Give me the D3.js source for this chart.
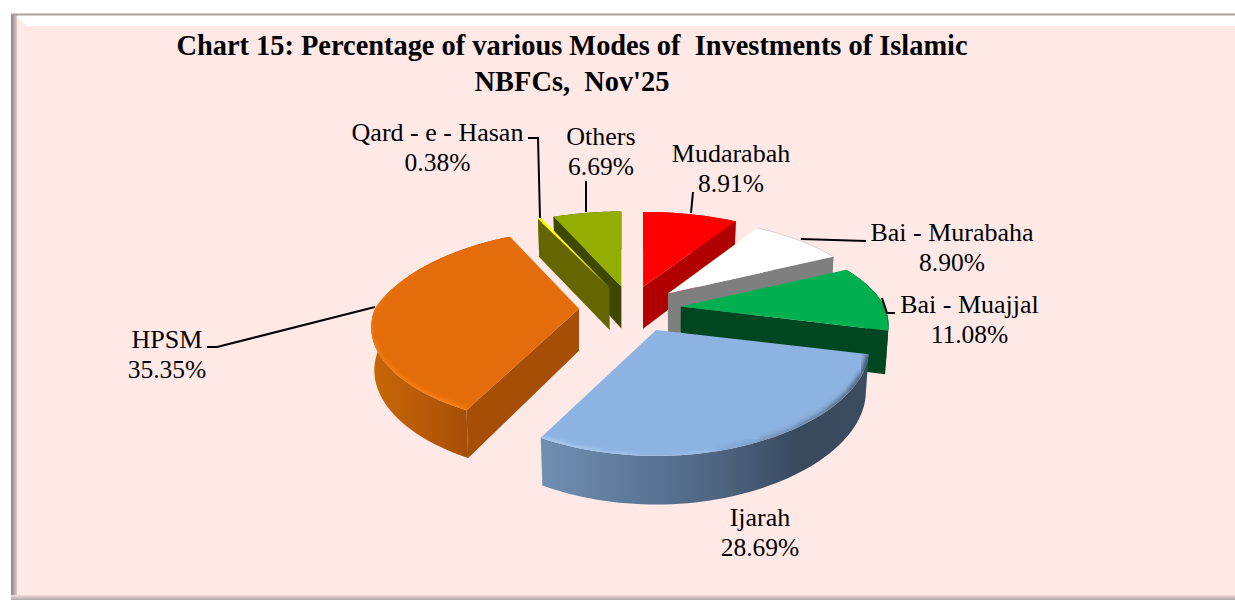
<!DOCTYPE html>
<html><head><meta charset="utf-8">
<script src="https://cdn.jsdelivr.net/npm/d3@7/dist/d3.min.js"></script>
<style>html,body{margin:0;padding:0;background:#fff}svg{display:block}text{font-family:"Liberation Serif",serif;fill:#000;white-space:pre}</style>
</head><body><svg id="c" width="1235" height="600"></svg>
<script>
const categories=["Mudarabah","Bai - Murabaha","Bai - Muajjal","Ijarah","HPSM","Qard - e - Hasan","Others"];
const values=[8.91,8.90,11.08,28.69,35.35,0.38,6.69];
const valueLabels=["8.91%","8.90%","11.08%","28.69%","35.35%","0.38%","6.69%"];
const topColors=["#ff0000","#ffffff","#00b050","#8db3e2","#e46c0a","#ffff00","#95ad00"];
const wallColors=["#b00000","#7f7f7f","#004721","#3a4b60","#a64e06","#666600","#3f4800"];
const titleLines=["Chart 15: Percentage of various Modes of  Investments of Islamic","NBFCs,  Nov'25"];
const labelAnchors=[[731,154],[952,233],[969.5,305],[760,518],[167,340],[437.5,133],[601,137]];
const leaders=[[[693,192],[691,213]],[[866,241],[801,239]],[[895,313],[887,313],[882,298]],[],[[207,347],[217,347],[375,307]],[[528,138],[538,138],[540,218]],[[586,181],[586,212]]];
const drawOrder=[6,5,0,1,2,4,3];
const sliceShift=[-1,0,0,5,0,1,2];
const sliceScale=[1,1,1,1.025,1,1,1];
const slicePerspY=[0.2535,0.2535,0.2535,0.2535,0.2,0.2535,0.2535];
const slicePerspBack=[0.2,0.25,0.25,0.19,0.3,0.25,0.25];

const W=1235,H=600;
const svg=d3.select("#c");
const defs=svg.append("defs");
defs.append("filter").attr("id","blur").attr("x","-20%").attr("y","-20%").attr("width","140%").attr("height","140%")
  .append("feGaussianBlur").attr("stdDeviation",2);

// frame
const g0=svg.append("g");
g0.append("rect").attr("x",11).attr("y",14).attr("width",W-11).attr("height",H-14).attr("fill","#ffe9e7");
g0.append("path").attr("d",d3.line()([[15,15],[W,15],[W,26],[27,26]])).attr("fill","#ffffff");
const lg=defs.append("linearGradient").attr("id","lb");
lg.append("stop").attr("offset",0).attr("stop-color","#8f8484");
lg.append("stop").attr("offset",1).attr("stop-color","#d9c9c9");
g0.append("rect").attr("x",11).attr("y",14).attr("width",6).attr("height",H-14).attr("fill","url(#lb)");
g0.append("rect").attr("x",11).attr("y",13.5).attr("width",W-11).attr("height",2).attr("fill","#a89f9f");
const bg=defs.append("linearGradient").attr("id","bb").attr("x2",0).attr("y2",1);
bg.append("stop").attr("offset",0).attr("stop-color","#f5dedc");
bg.append("stop").attr("offset",1).attr("stop-color","#b0a5a5");
g0.append("rect").attr("x",11).attr("y",595).attr("width",W-11).attr("height",5).attr("fill","url(#bb)");

// projection of the pie plane
const cx=630,cy=309,rx=204,ry=94,perspFront=0.19,explode=0.25,yEx=0.245;
const TAU=2*Math.PI;
const arcs=d3.pie().sort(null).value(d=>d).startAngle(0).endAngle(TAU)(values);
const apex=(a,i)=>{const m=(a.startAngle+a.endAngle)/2;return [cx+rx*explode*Math.sin(m)+sliceShift[i],cy-ry*yEx*Math.cos(m)];};
const line=d3.line();
const angles=(s,e)=>d3.range(0,61).map(i=>s+(e-s)*i/60);

const wallGrad={3:[["0","#6f8fb3"],["0.55","#4d6480"],["0.78","#394a5f"],["1","#3b4c61"]],4:[["0","#a64e06"],["0.4","#b65907"],["1","#c86708"]]};

const pieG=svg.append("g");
drawOrder.forEach(i=>{
  const a=arcs[i],A=apex(a,i),s=a.startAngle,e=a.endAngle;
  const py=slicePerspY[i];
  const pt=t=>{const c=Math.cos(t),px=c>0?slicePerspBack[i]:perspFront;
    return [A[0]+sliceScale[i]*rx*Math.sin(t)/(1+px*c),A[1]-ry*c/(1+py*c)];};
  const depth=t=>42/Math.sqrt(1+0.2535*Math.cos(t));
  const low=t=>{const p=pt(t);return [A[0]+(p[0]-A[0])*0.985,p[1]+depth(t)];};
  const g=pieG.append("g");
  const ts=angles(s,e);
  const Ab=[A[0],A[1]+42];
  if(wallGrad[i]){
    const xs=ts.map(t=>pt(t)[0]);
    const lgw=defs.append("linearGradient").attr("id","wg"+i).attr("gradientUnits","userSpaceOnUse")
      .attr("x1",i===3?d3.min(xs):pt(s)[0]).attr("x2",i===3?d3.max(xs):d3.min(xs)).attr("y1",0).attr("y2",0);
    wallGrad[i].forEach(st=>lgw.append("stop").attr("offset",st[0]).attr("stop-color",st[1]));
  }
  const wallFill=wallGrad[i]?`url(#wg${i})`:wallColors[i];
  // outer wall
  g.append("path").attr("d",line(ts.map(pt).concat(ts.slice().reverse().map(low)))+"Z").attr("fill",wallFill);
  // radial walls that face the viewer
  if(Math.sin(s)<-1e-6) g.append("path").attr("d",line([A,pt(s),low(s),Ab])+"Z").attr("fill",wallColors[i]);
  if(Math.sin(e)>1e-6) g.append("path").attr("d",line([A,pt(e),low(e),Ab])+"Z").attr("fill",wallColors[i]);
  // top
  const topD=line([A].concat(ts.map(pt)))+"Z";
  g.append("path").attr("d",topD).attr("fill",topColors[i]);
  defs.append("clipPath").attr("id","tc"+i).append("path").attr("d",topD);
  // soft rim, fading out along the arc
  const rim=(from,to,col,wd,fadeIn)=>{
    const host=g.append("g").attr("clip-path",`url(#tc${i})`);
    d3.range(6).forEach(k=>{
      const f=(fadeIn?k+1:6-k)/6;
      host.append("path")
        .attr("d",line(angles(s+(e-s)*(from+(to-from)*k/6),s+(e-s)*(from+(to-from)*(k+1)/6)).map(pt))).attr("fill","none")
        .attr("stroke",col).attr("stroke-width",wd).attr("stroke-opacity",f).attr("filter","url(#blur)");
    });
  };
  if(i===3){ rim(0,0.6,"#3c4d63",6,false); rim(0.55,1,"#b5d3f5",4,true); }
  else if(i===4){ rim(0,0.7,"#ff8a1c",4,false); }
  else if(i===2){ rim(0.4,1,"#006b32",4,true); }
  else if(i===1){ g.append("path").attr("d",line(ts.map(pt))).attr("fill","none").attr("stroke","#d8d8d8").attr("stroke-width",1); }
});

// leaders
svg.append("g").selectAll("path").data(leaders.filter(l=>l.length)).join("path")
  .attr("d",d=>line(d)).attr("fill","none").attr("stroke","#000").attr("stroke-width",2);

// labels
const lab=svg.append("g").attr("text-anchor","middle").attr("font-size",26);
categories.forEach((c,i)=>{
  const t=lab.append("text").attr("x",labelAnchors[i][0]).attr("y",labelAnchors[i][1]+8);
  t.append("tspan").attr("x",labelAnchors[i][0]).text(c);
  t.append("tspan").attr("x",labelAnchors[i][0]).attr("dy",29.5).attr("font-size",25.5).text(valueLabels[i]);
});
// title
const tt=svg.append("g").attr("text-anchor","middle").attr("font-size",28.4).attr("font-weight","bold");
titleLines.forEach((l,i)=>tt.append("text").attr("x",572).attr("y",55+i*35.5).text(l));
</script></body></html>
